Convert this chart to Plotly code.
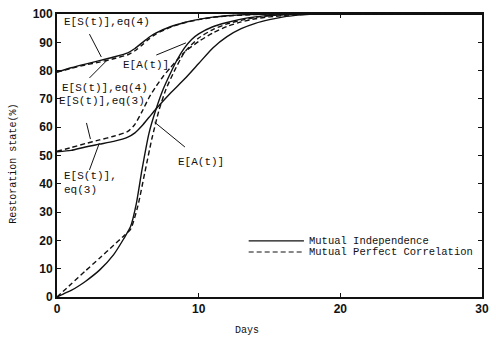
import plotly.graph_objects as go

# ---- data ----
t_s4 = [0, 1, 2, 3, 4, 5, 5.5, 6, 6.5, 7, 8, 9, 10, 11, 12, 14, 16, 30]
s4_indep = [79.5, 81, 82.3, 83.5, 84.8, 86.3, 87.8, 89.8, 91.8, 93.3, 95.5, 97, 98.1, 98.9, 99.4, 99.9, 100, 100]
s4_corr = [79.5, 80.8, 82, 83, 84.2, 85.6, 87, 89, 91.2, 93, 95.3, 96.9, 98, 98.8, 99.3, 99.8, 100, 100]

t_s3_i = [0, 1, 2, 3, 4, 5, 5.5, 6, 6.5, 7, 8, 9, 10, 11, 12, 13, 14, 15, 16, 17, 18, 30]
s3_indep = [51.3, 51.8, 53, 54, 55, 56.5, 58, 60.5, 63.5, 66.5, 72, 77, 82.5, 88, 92, 94.8, 96.7, 98, 99, 99.6, 100, 100]

t_s3_c = [0, 1, 2, 3, 4, 5, 5.5, 6, 6.5, 7, 7.5, 8, 9, 10, 11, 12, 13, 14, 15, 17, 30]
s3_corr = [51.5, 52.8, 54.2, 55.5, 56.8, 58.5, 61, 65.5, 70.5, 74.5, 78, 81, 86.5, 90.3, 93.3, 95.6, 97.2, 98.3, 99, 99.8, 100]

t_a_i = [0, 0.5, 1, 1.5, 2, 3, 4, 4.7, 5.2, 5.6, 6, 6.5, 7, 7.5, 8, 8.5, 9, 9.5, 10, 11, 12, 13, 14, 15, 16, 17, 30]
a_indep = [0, 1.2, 2.3, 3.8, 5.5, 9.5, 15, 20.5, 25, 33, 45, 58, 66.5, 73.5, 79, 84, 88, 91, 93, 95.5, 97, 98.2, 99, 99.5, 99.8, 100, 100]

t_a_c = [0, 1, 2, 3, 4, 4.7, 5.2, 5.7, 6.2, 6.7, 7.2, 7.7, 8.2, 9, 10, 11, 12, 13, 14, 15, 17, 30]
a_corr = [0, 4.6, 9.2, 13.7, 18.3, 21.5, 24, 32, 44, 56, 66, 73.5, 79, 86.5, 91.5, 94.5, 96.5, 97.8, 98.8, 99.4, 100, 100]

x_ticks = [0, 10, 20, 30]
y_ticks = [0, 10, 20, 30, 40, 50, 60, 70, 80, 90, 100]

legend_labels = ["Mutual Independence", "Mutual Perfect Correlation"]

FONT = "Liberation Mono"
INK = "#111111"

fig = go.Figure()

def add_curve(t, v, dash):
    fig.add_trace(go.Scatter(
        x=t, y=v, mode="lines", showlegend=False,
        line=dict(color=INK, width=1.4, dash=dash, shape="spline", smoothing=0.6),
        hoverinfo="skip"))

add_curve(t_s4, s4_indep, "solid")
add_curve(t_s4, s4_corr, "5px,3px")
add_curve(t_s3_i, s3_indep, "solid")
add_curve(t_s3_c, s3_corr, "5px,3px")
add_curve(t_a_i, a_indep, "solid")
add_curve(t_a_c, a_corr, "5px,3px")

# ---- curve labels (text + leader line) ----
labels = [
    ("E[S(t)],eq(4)", 0.35, 97.2, (2.29, 92.9, 3.13, 84.8)),
    ("E[A(t)]", 4.5, 82.0, (7.01, 85.5, 9.1, 89.8)),
    ("E[S(t)],eq(4)", 0.2, 73.7, (2.29, 77.4, 3.54, 83.7)),
    ("E[S(t)],eq(3)", 0.0, 69.3, (2.08, 61.5, 2.36, 55.8)),
    ("E[S(t)],<br>eq(3)", 0.35, 40.3, (2.29, 44.9, 2.99, 54.4)),
    ("E[A(t)]", 8.4, 47.7, (9.03, 53.0, 6.88, 61.8)),
]
for txt, x, y, (x0, y0, x1, y1) in labels:
    fig.add_annotation(x=x, y=y, xref="x", yref="y", text=txt, showarrow=False,
                       xanchor="left", yanchor="middle", align="left",
                       font=dict(family=FONT, size=11, color=INK))
    fig.add_shape(type="line", xref="x", yref="y", x0=x0, y0=y0, x1=x1, y1=y1,
                  line=dict(color=INK, width=1))

# ---- legend (drawn) ----
leg_y = [0.198, 0.159]
leg_dash = ["solid", "5px,3px"]
for lab, ly, d in zip(legend_labels, leg_y, leg_dash):
    fig.add_shape(type="line", xref="paper", yref="paper", x0=0.451, x1=0.581, y0=ly, y1=ly,
                  line=dict(color=INK, width=1.2, dash=d))
    fig.add_annotation(x=0.589, y=ly, xref="paper", yref="paper", text=lab, showarrow=False,
                       xanchor="left", yanchor="middle",
                       font=dict(family=FONT, size=10.5, color=INK))

# axis titles
fig.add_annotation(x=0.447, y=-0.12, xref="paper", yref="paper", text="Days", showarrow=False,
                   xanchor="center", yanchor="middle", font=dict(family=FONT, size=10, color=INK))
fig.add_annotation(x=-0.102, y=0.47, xref="paper", yref="paper", text="Restoration state(%)",
                   showarrow=False, textangle=-90, xanchor="center", yanchor="middle",
                   font=dict(family=FONT, size=10, color=INK))

axis_common = dict(showgrid=False, zeroline=False, showline=True, linecolor=INK, linewidth=1.8,
                   mirror="ticks", ticks="inside", ticklen=4, tickcolor=INK, tickwidth=1,
                   tickfont=dict(family="Liberation Sans", size=12, color=INK, weight="bold"))

fig.update_xaxes(range=[0, 30], tickvals=x_ticks, ticktext=[str(v) for v in x_ticks], **axis_common)
fig.update_yaxes(range=[0, 100], tickvals=y_ticks, ticktext=[str(v) for v in y_ticks], **axis_common)

fig.update_layout(width=496, height=338, margin=dict(l=57, r=7, t=14, b=41),
                  paper_bgcolor="white", plot_bgcolor="white", showlegend=False)

fig.write_html("out.html")
